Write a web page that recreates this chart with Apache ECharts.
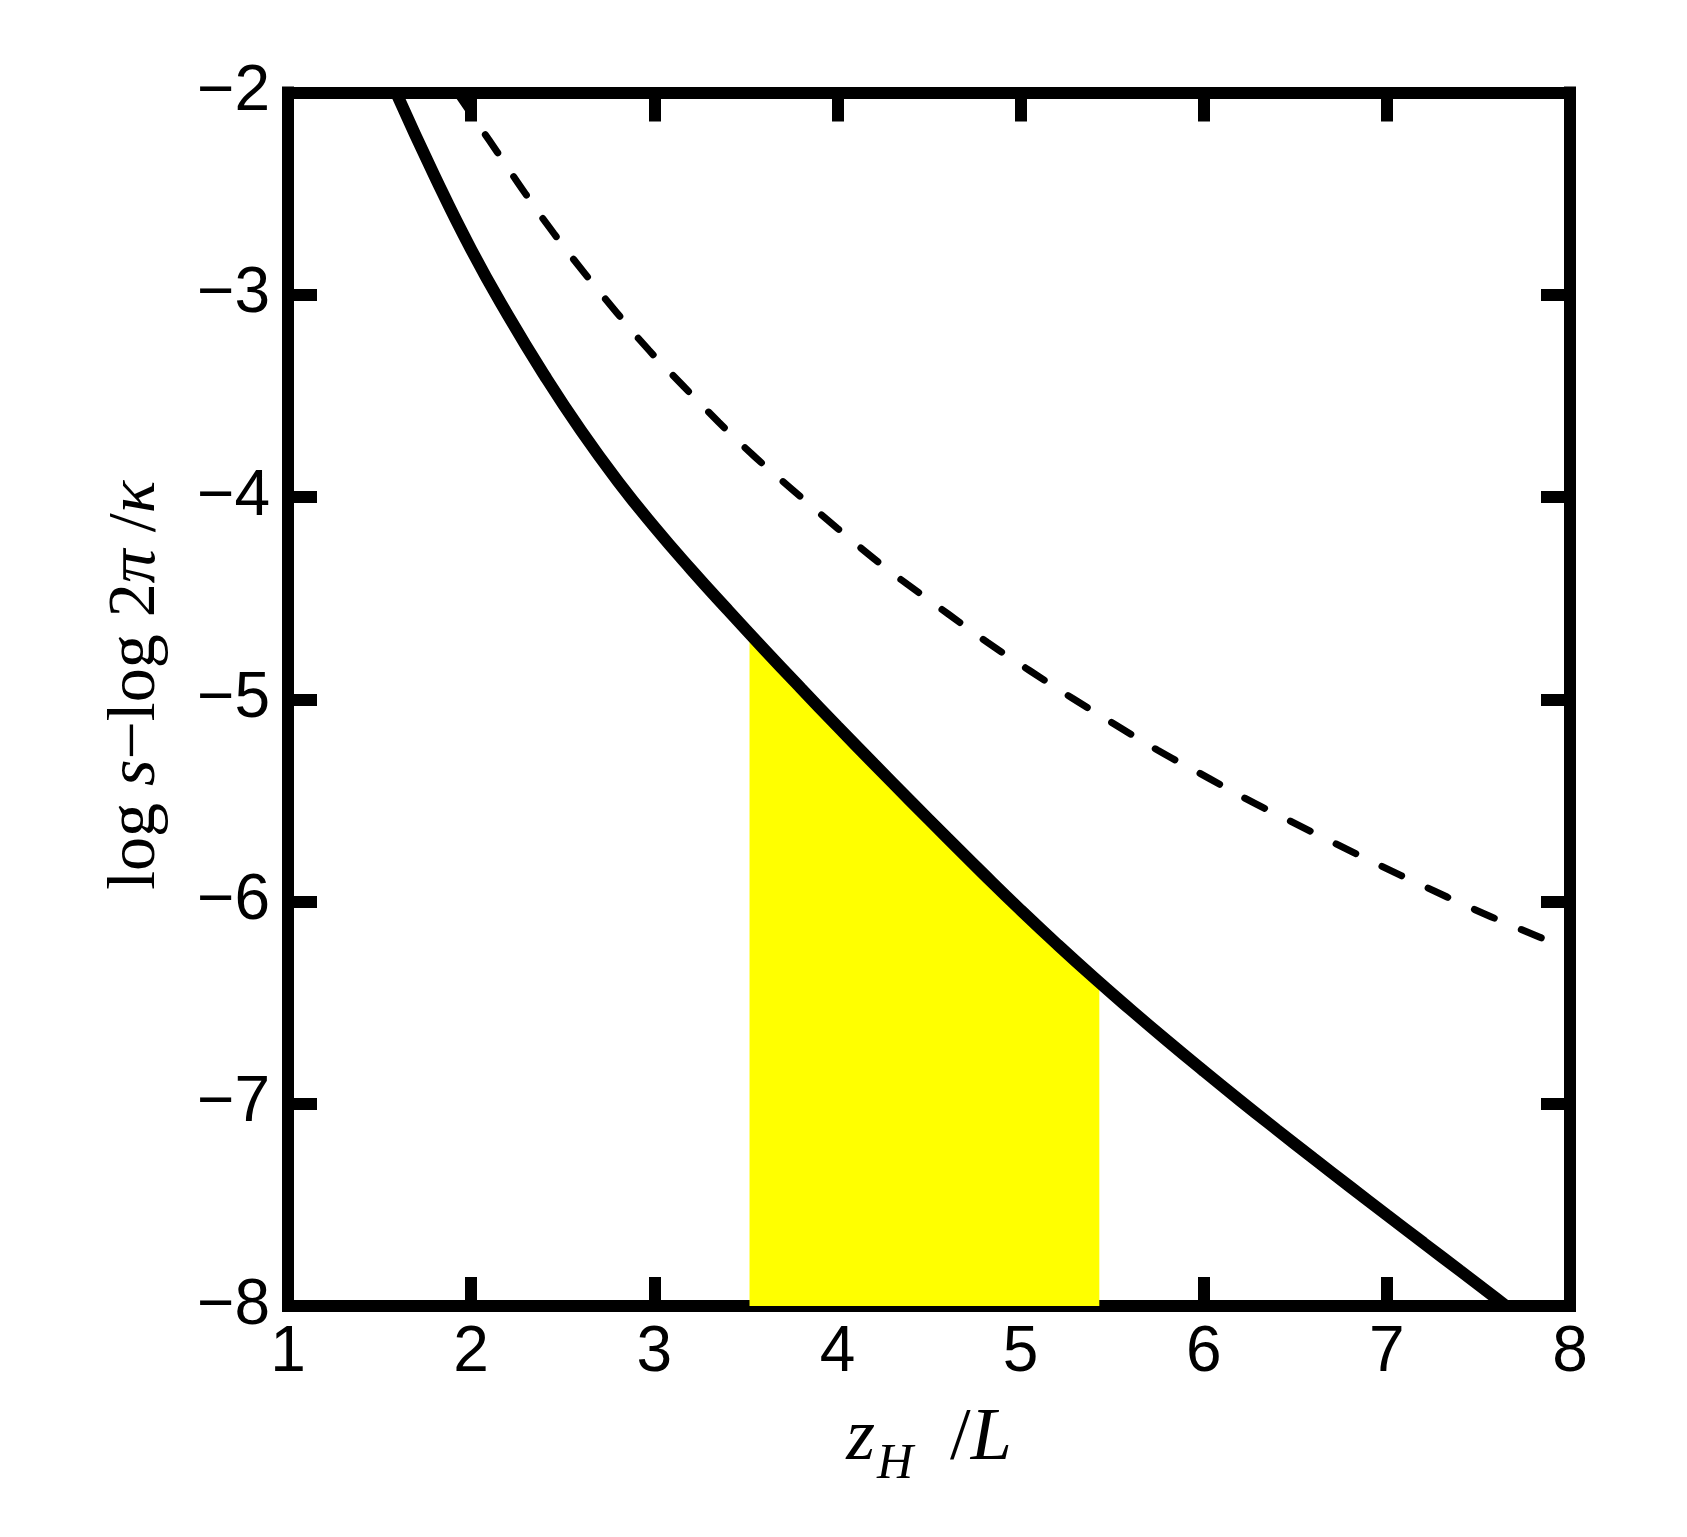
<!DOCTYPE html>
<html>
<head>
<meta charset="utf-8">
<script src="https://cdn.jsdelivr.net/npm/echarts@6/dist/echarts.min.js"></script>
<style>
html,body{margin:0;padding:0;background:#ffffff;}
#chart{width:1687px;height:1537px;}
</style>
</head>
<body>
<div id="chart"></div>
<script>
// ---- data ----
const xTicks = [1, 2, 3, 4, 5, 6, 7, 8];
const yTicks = [-8, -7, -6, -5, -4, -3, -2];

const solidX = [1.59, 1.8, 2.0, 2.2, 2.4, 2.6, 2.8, 3.0, 3.2, 3.4, 3.6, 3.8, 4.0, 4.2, 4.4, 4.6, 4.8, 5.0, 5.2, 5.4, 5.6, 5.8, 6.0, 6.2, 6.4, 6.6, 6.8, 7.0, 7.2, 7.4, 7.6, 7.65];
const solidY = [-2.0, -2.412, -2.776, -3.100, -3.398, -3.672, -3.921, -4.147, -4.357, -4.557, -4.753, -4.945, -5.134, -5.320, -5.504, -5.686, -5.866, -6.042, -6.212, -6.376, -6.534, -6.688, -6.838, -6.985, -7.129, -7.271, -7.411, -7.550, -7.688, -7.826, -7.964, -8.0];

const dashedX = [1.92, 2.056, 2.143, 2.296, 2.452, 2.62, 2.793, 2.969, 3.157, 3.352, 3.548, 3.752, 4.0, 4.267, 4.38, 4.604, 4.821, 5.051, 5.281, 5.511, 5.747, 5.987, 6.227, 6.468, 6.715, 6.958, 7.20, 7.453, 7.706, 7.958, 8.0];
const dashedY = [-2.0, -2.18, -2.295, -2.50, -2.697, -2.894, -3.086, -3.272, -3.45, -3.63, -3.80, -3.962, -4.155, -4.354, -4.43, -4.578, -4.720, -4.859, -4.994, -5.122, -5.251, -5.370, -5.49, -5.60, -5.712, -5.82, -5.923, -6.029, -6.128, -6.223, -6.24];

const shadeX = [3.52, 3.6, 3.8, 4.0, 4.2, 4.4, 4.6, 4.8, 5.0, 5.2, 5.4, 5.43];
const shadeY = [-4.675, -4.753, -4.945, -5.134, -5.320, -5.504, -5.686, -5.866, -6.042, -6.212, -6.376, -6.40];

// ---- build chart ----
const pairs = (xs, ys) => xs.map((x, i) => [x, ys[i]]);
const minusFmt = v => (v < 0 ? '\u2212' + Math.abs(v) : String(v));

const frameLine = { show: true, onZero: false, lineStyle: { color: '#000', width: 12, cap: 'square' } };
const frameTick = { show: true, inside: true, length: 29, lineStyle: { color: '#000', width: 12 } };

const serifU = { fontFamily: 'Liberation Serif', fontSize: 68, fontStyle: 'normal', color: '#000', lineHeight: 68 };
const serifI = { fontFamily: 'Liberation Serif', fontSize: 68, fontStyle: 'italic', color: '#000', lineHeight: 68 };
const xU = { fontFamily: 'Liberation Serif', fontSize: 74, fontStyle: 'normal', color: '#000', lineHeight: 74 };
const xI = { fontFamily: 'Liberation Serif', fontSize: 74, fontStyle: 'italic', color: '#000', lineHeight: 74 };

const chart = echarts.init(document.getElementById('chart'));
chart.setOption({
  animation: false,
  backgroundColor: '#ffffff',
  grid: { left: 288, right: 117, top: 92.5, bottom: 231, containLabel: false },
  xAxis: [
    {
      type: 'value', position: 'bottom', min: xTicks[0], max: xTicks[xTicks.length - 1], interval: 1,
      axisLine: frameLine, axisTick: frameTick, splitLine: { show: false },
      axisLabel: { show: true, margin: 15, fontSize: 64, fontFamily: 'Liberation Sans', color: '#000', formatter: minusFmt },
      name: '{i|z}{sub|H}{u|  /}{i|L}', nameLocation: 'middle', nameGap: 95,
      nameTextStyle: {
        rich: {
          i: xI,
          u: xU,
          sub: { fontFamily: 'Liberation Serif', fontSize: 50, fontStyle: 'italic', color: '#000', lineHeight: 50, padding: [50, 0, 0, 2] }
        }
      }
    },
    {
      type: 'value', position: 'top', min: xTicks[0], max: xTicks[xTicks.length - 1], interval: 1,
      axisLine: frameLine, axisTick: frameTick, splitLine: { show: false }, axisLabel: { show: false }
    }
  ],
  yAxis: [
    {
      type: 'value', position: 'left', min: yTicks[0], max: yTicks[yTicks.length - 1], interval: 1,
      axisLine: frameLine, axisTick: frameTick, splitLine: { show: false },
      axisLabel: { show: true, margin: 18, fontSize: 64, fontFamily: 'Liberation Sans', color: '#000', formatter: minusFmt },
      name: '{u|log }{i|s}{u|\u2212log 2}{i|\u03c0}{u| /}{i|\u03ba}', nameLocation: 'middle', nameRotate: 90, nameGap: 118,
      nameTextStyle: { rich: { u: serifU, i: serifI }, padding: [0, 0, 0, 28] }
    },
    {
      type: 'value', position: 'right', min: yTicks[0], max: yTicks[yTicks.length - 1], interval: 1,
      axisLine: frameLine, axisTick: frameTick, splitLine: { show: false }, axisLabel: { show: false }
    }
  ],
  series: [
    {
      name: 'shade', type: 'line', xAxisIndex: 0, yAxisIndex: 0, data: pairs(shadeX, shadeY),
      smooth: 0.5, showSymbol: false, symbol: 'none',
      lineStyle: { width: 0 }, areaStyle: { color: '#ffff00', opacity: 1, origin: 'start' }, z: 1
    },
    {
      name: 'dashed', type: 'line', xAxisIndex: 0, yAxisIndex: 0, data: pairs(dashedX, dashedY),
      smooth: 0.5, showSymbol: false, symbol: 'none',
      lineStyle: { color: '#000', width: 7, type: [22, 29], cap: 'round' }, z: 3
    },
    {
      name: 'solid', type: 'line', xAxisIndex: 0, yAxisIndex: 0, data: pairs(solidX, solidY),
      smooth: 0.5, showSymbol: false, symbol: 'none',
      lineStyle: { color: '#000', width: 12 }, z: 4
    }
  ]
});
</script>
</body>
</html>
